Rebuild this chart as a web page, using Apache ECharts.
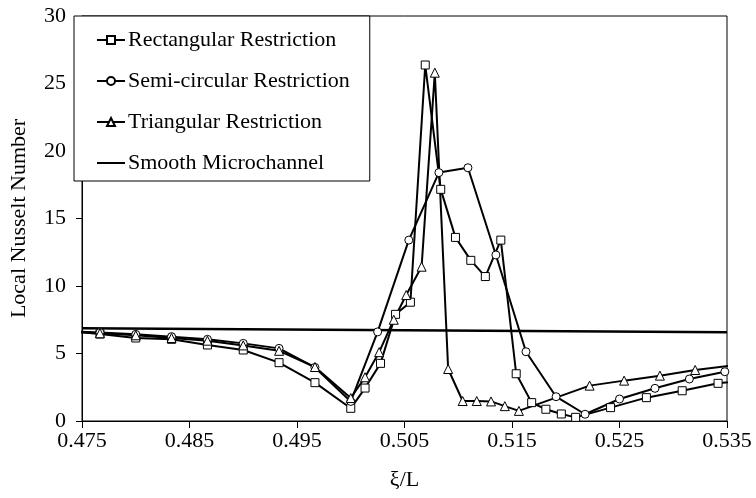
<!DOCTYPE html>
<html>
<head>
<meta charset="utf-8">
<title>Local Nusselt Number</title>
<script src="https://cdn.jsdelivr.net/npm/echarts@6/dist/echarts.min.js"></script>
<style>
  html, body { margin: 0; padding: 0; background: #fff; }
  #chart { width: 756px; height: 498px; }
</style>
</head>
<body>
<div id="chart"></div>
<script>
// Axial position ξ/L and local Nusselt number for each channel geometry
const rectX = [0.4733, 0.47667, 0.48, 0.48333, 0.48667, 0.49, 0.49333, 0.49667, 0.5,
  0.50133, 0.50277, 0.50417, 0.50555, 0.50693, 0.50837, 0.50974, 0.51117, 0.51252,
  0.51396, 0.51539, 0.51683, 0.51815, 0.51959, 0.52092, 0.52417, 0.5275, 0.53083, 0.53417, 0.5375];
const rectNu = [6.7, 6.44, 6.15, 6.05, 5.63, 5.26, 4.32, 2.84, 0.94,
  2.44, 4.27, 7.9, 8.8, 26.37, 17.16, 13.6, 11.9, 10.7,
  13.4, 3.5, 1.36, 0.87, 0.52, 0.27, 0.99, 1.73, 2.24, 2.79, 3.1];

const circX = [0.4733, 0.47667, 0.48, 0.48333, 0.48667, 0.49, 0.49333, 0.49667, 0.5,
  0.5025, 0.5054, 0.5082, 0.5109, 0.5135, 0.5163, 0.5191, 0.5218, 0.525, 0.5283, 0.5315, 0.5348, 0.538];
const circNu = [6.68, 6.55, 6.42, 6.25, 6.05, 5.75, 5.38, 3.97, 1.45,
  6.6, 13.4, 18.4, 18.76, 12.3, 5.13, 1.8, 0.5, 1.63, 2.42, 3.11, 3.65, 4.2];

const triX = [0.4733, 0.47667, 0.48, 0.48333, 0.48667, 0.49, 0.49333, 0.49667, 0.5,
  0.50133, 0.50264, 0.504, 0.50516, 0.50659, 0.50782, 0.50906, 0.51041, 0.51172,
  0.51305, 0.51433, 0.51564, 0.52222, 0.52543, 0.52876, 0.53204, 0.5354];
const triNu = [6.65, 6.5, 6.35, 6.15, 5.95, 5.6, 5.2, 4.0, 1.7,
  3.24, 5.1, 7.5, 9.33, 11.43, 25.8, 3.85, 1.48, 1.48,
  1.45, 1.1, 0.75, 2.62, 2.99, 3.36, 3.78, 4.1];

const smoothX = [0.475, 0.505, 0.535];
const smoothNu = [6.87, 6.72, 6.57];

const seriesNames = ['Rectangular Restriction', 'Semi-circular Restriction',
  'Triangular Restriction', 'Smooth Microchannel'];

const xTicks = { min: 0.475, max: 0.535, step: 0.01 };
const yTicks = { min: 0, max: 30, step: 5 };

const FONT = "'Liberation Serif', 'Times New Roman', serif";

function pairs(xs, ys) {
  return xs.map((x, i) => [x, ys[i]]);
}

function markerSeries(name, xs, ys, symbol, size) {
  return {
    name: name,
    type: 'line',
    data: pairs(xs, ys),
    symbol: symbol,
    symbolSize: size,
    showAllSymbol: true,
    clip: true,
    lineStyle: { color: '#000', width: 2 },
    itemStyle: { color: '#fff', borderColor: '#000', borderWidth: 1 },
    emphasis: { disabled: true },
    z: 3
  };
}

const chart = echarts.init(document.getElementById('chart'), null, { renderer: 'canvas' });

chart.setOption({
  animation: false,
  backgroundColor: '#fff',
  textStyle: { fontFamily: FONT, color: '#000' },
  grid: {
    left: 73, right: 29, top: 16, bottom: 77,
    show: true, borderColor: '#000', borderWidth: 1, backgroundColor: 'transparent'
  },
  legend: {
    orient: 'vertical',
    left: 74, top: 16,
    padding: [13, 20, 7, 22],
    itemGap: 19,
    itemWidth: 28,
    itemHeight: 10,
    backgroundColor: '#fff',
    borderColor: '#000',
    borderWidth: 1,
    borderRadius: 0,
    data: [
      seriesNames[0],
      seriesNames[1],
      seriesNames[2],
      // plain line entry: hide the marker part of the icon
      { name: seriesNames[3], itemStyle: { color: 'rgba(0,0,0,0)', borderColor: 'rgba(0,0,0,0)', borderWidth: 0 } }
    ],
    textStyle: { fontFamily: FONT, fontSize: 22, color: '#000', lineHeight: 22, padding: [0, 0, 0, -2] }
  },
  xAxis: {
    type: 'value',
    min: xTicks.min,
    max: xTicks.max,
    interval: xTicks.step,
    name: 'ξ/L',
    nameLocation: 'middle',
    nameGap: 48,
    nameTextStyle: { fontFamily: FONT, fontSize: 22, color: '#000' },
    axisLine: { show: true, onZero: false, lineStyle: { color: '#000', width: 1 } },
    axisTick: { show: true, inside: false, length: 7, lineStyle: { color: '#000' } },
    axisLabel: {
      fontFamily: FONT, fontSize: 22, color: '#000', margin: 9,
      formatter: v => v.toFixed(3)
    },
    splitLine: { show: false }
  },
  yAxis: {
    type: 'value',
    min: yTicks.min,
    max: yTicks.max,
    interval: yTicks.step,
    name: 'Local Nusselt Number',
    nameLocation: 'middle',
    nameGap: 52,
    nameTextStyle: { fontFamily: FONT, fontSize: 22, color: '#000' },
    axisLine: { show: true, lineStyle: { color: '#000', width: 1 } },
    axisTick: { show: true, inside: false, length: 6, lineStyle: { color: '#000' } },
    axisLabel: { fontFamily: FONT, fontSize: 22, color: '#000', margin: 16 },
    splitLine: { show: false }
  },
  series: [
    markerSeries(seriesNames[0], rectX, rectNu, 'rect', 8),
    markerSeries(seriesNames[1], circX, circNu, 'circle', 8),
    markerSeries(seriesNames[2], triX, triNu, 'triangle', 9),
    {
      name: seriesNames[3],
      type: 'line',
      data: pairs(smoothX, smoothNu),
      symbol: 'none',
      lineStyle: { color: '#000', width: 2.5 },
      itemStyle: { color: '#000' },
      emphasis: { disabled: true },
      z: 2
    }
  ]
});
</script>
</body>
</html>
